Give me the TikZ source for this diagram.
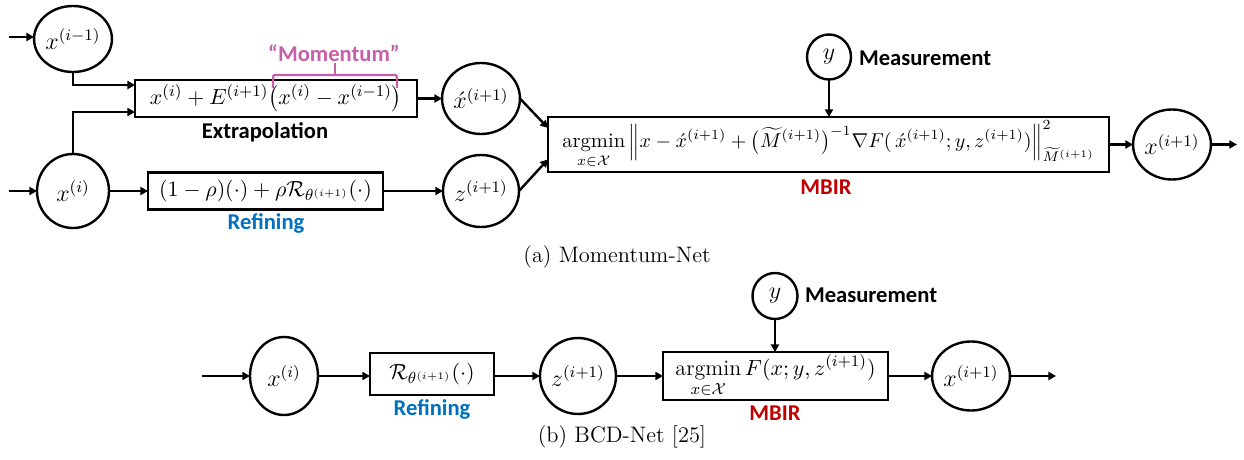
\documentclass[tikz,border=0pt]{standalone}
\usepackage{amsmath}
\usepackage{fontspec}
\newfontfamily\lblfont{Carlito}
\usetikzlibrary{shapes.geometric,arrows.meta,calc}
\definecolor{momcol}{RGB}{199,95,170}
\definecolor{refcol}{RGB}{0,112,192}
\definecolor{mbircol}{RGB}{192,0,0}
\newcommand{\mfont}{\fontsize{11}{13}\selectfont}
\newcommand{\cfont}{\fontsize{12}{14}\selectfont}
\newcommand{\sfont}{\fontsize{10.3}{12}\selectfont}
\begin{document}
\begin{tikzpicture}[x=0.5pt,y=-0.5pt,
  every node/.style={inner sep=0pt, outer sep=0pt},
  line width=1.2pt,
  arr/.style={-{Triangle[length=3.8pt,width=4pt]}},
  cnode/.style={draw, ellipse, font=\cfont},
  bx/.style={draw, rectangle, font=\mfont},
  lbl/.style={font=\lblfont\bfseries\fontsize{11.3}{13}\selectfont},
  capt/.style={font=\fontsize{11.2}{13}\selectfont},
]
\useasboundingbox (0,0) rectangle (1244,460);

% ---------------- (a) Momentum-Net ----------------
\node[cnode, minimum width=36pt, minimum height=33pt] (xim1) at (73,39) {$x^{(i-1)}$};
\node[cnode, minimum width=36pt, minimum height=37pt] (xi) at (73,191) {$x^{(i)}$};
\node[bx, minimum width=141pt, minimum height=18.5pt] (ext) at (276,98.5)
  {$x^{(i)}+E^{(i+1)}\bigl(x^{(i)}-x^{(i-1)}\bigr)$};
\node[bx, minimum width=117.5pt, minimum height=18.5pt] (ref) at (265.5,191)
  {$(1-\rho)(\cdot)+\rho\mathcal{R}_{\theta^{(i+1)}}(\cdot)$};
\node[cnode, minimum width=36pt, minimum height=35.5pt] (xh) at (481,98.5) {$\acute{x}^{(i+1)}$};
\node[cnode, minimum width=36pt, minimum height=36pt] (z) at (481,191) {$z^{(i+1)}$};
\node[bx, font=\sfont, minimum width=280.5pt, minimum height=27.5pt] (mbir) at (828.5,144.5)
  {$\displaystyle\operatorname*{argmin}_{x\in\mathcal{X}}\left\|x-\acute{x}^{(i+1)}+\bigl(\widetilde{M}^{(i+1)}\bigr)^{-1}\nabla F(\,\acute{x}^{(i+1)};y,z^{(i+1)})\right\|^2_{\widetilde{M}^{(i+1)}}$};
\node[cnode, minimum width=22pt, minimum height=22.5pt] (y) at (829,57) {$y$};
\node[cnode, minimum width=35.5pt, minimum height=35pt] (xo) at (1172,144.5) {$x^{(i+1)}$};

\node[lbl, anchor=west] (meas) at (859,58) {Measurement};
\node[lbl] (extl) at (265,132) {Extrapolation};
\node[lbl, text=refcol] (refl) at (266,223) {Refining};
\node[lbl, text=mbircol] (mbirl) at (826,187) {MBIR};
\node[lbl, text=momcol] (moml) at (334,53) {“Momentum”};
\draw[momcol, line width=1.1pt, rounded corners=1pt]
  (273,88) -- (273,75) -- (397,75) -- (397,88);
\draw[momcol, line width=1.1pt] (335,75) -- (335,63);

\coordinate (in1) at (9,37);
\coordinate (in2) at (9,191);
\coordinate (e1) at (135,85);
\coordinate (e2) at (135,112);
\coordinate (m1) at ($(mbir.north west)!0.2!(mbir.south west)$);
\coordinate (m2) at ($(mbir.north west)!0.77!(mbir.south west)$);
\coordinate (out1) at (1237,144.5);

\draw[arr] (in1) -- (xim1.west |- in1);
\draw[arr] (in2) -- (xi.west);
\draw[arr] (xim1.south) |- (e1);
\draw[arr] (xi.north) |- (e2);
\draw[arr] (xi.east) -- (ref.west);
\draw[arr] (ext.east) -- (xh.west);
\draw[arr] (ref.east) -- (z.west);
\draw[arr] (xh.east) -- (m1);
\draw[arr] (z.east) -- (m2);
\draw[arr] (y.south) -- (y.south |- mbir.north);
\draw[arr] (mbir.east) -- (xo.west);
\draw[arr] (xo.east) -- (out1);

\node[capt] (capa) at (617,257) {(a) Momentum-Net};

% ---------------- (b) BCD-Net ----------------
\node[cnode, minimum width=34pt, minimum height=39pt] (bxi) at (284,376) {$x^{(i)}$};
\node[bx, minimum width=62pt, minimum height=21pt] (bref) at (432,374)
  {$\mathcal{R}_{\theta^{(i+1)}}(\cdot)$};
\node[cnode, minimum width=35pt, minimum height=38pt] (bz) at (578,376) {$z^{(i+1)}$};
\node[bx, minimum width=112.5pt, minimum height=24pt] (bmbir) at (775.5,376)
  {$\displaystyle\operatorname*{argmin}_{x\in\mathcal{X}}F(x;y,z^{(i+1)})$};
\node[cnode, minimum width=22.5pt, minimum height=23pt] (by) at (775,296) {$y$};
\node[cnode, minimum width=36pt, minimum height=34.5pt] (bxo) at (971,376) {$x^{(i+1)}$};

\node[lbl, anchor=west] (bmeas) at (805,295) {Measurement};
\node[lbl, text=refcol] (brefl) at (432,409) {Refining};
\node[lbl, text=mbircol] (bmbirl) at (775,413) {MBIR};

\coordinate (bin) at (202,376);
\coordinate (bout) at (1056,376);
\draw[arr] (bin) -- (bxi.west);
\draw[arr] (bxi.east) -- (bref.west |- bxi.east);
\draw[arr] (bref.east |- bz.west) -- (bz.west);
\draw[arr] (bz.east) -- (bmbir.west);
\draw[arr] (by.south) -- (by.south |- bmbir.north);
\draw[arr] (bmbir.east) -- (bxo.west);
\draw[arr] (bxo.east) -- (bout);

\node[capt] (capb) at (622,437) {(b) BCD-Net [25]};
\end{tikzpicture}
\end{document}
